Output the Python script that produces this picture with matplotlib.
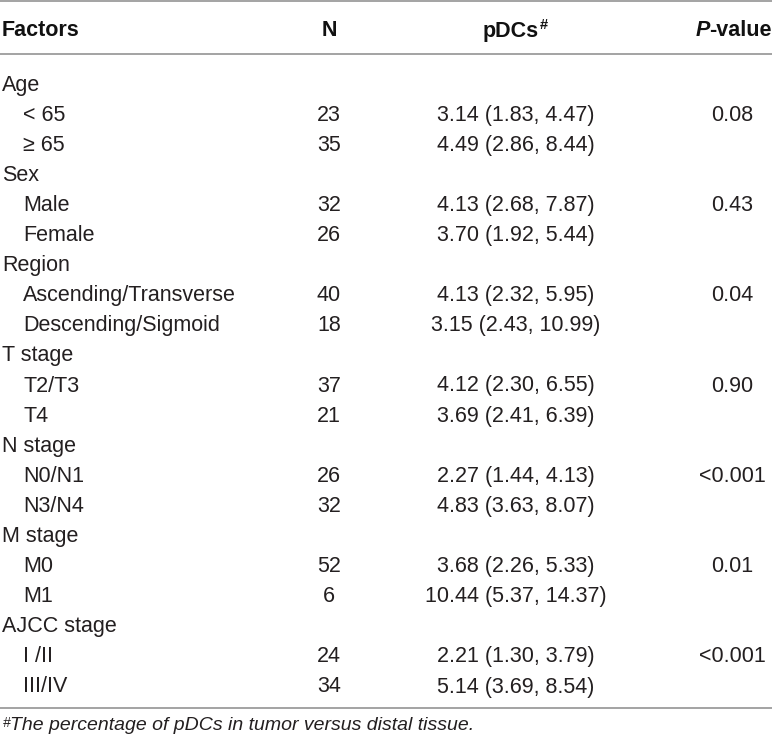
import matplotlib
matplotlib.use("Agg")
import matplotlib.pyplot as plt

plt.rcParams['font.family'] = ['Liberation Sans', 'DejaVu Sans']

# table contents
groups = ['Age', 'Sex', 'Region', 'T stage', 'N stage', 'M stage', 'AJCC stage']
subgroups = [['< 65', '\u2265 65'], ['Male', 'Female'],
             ['Ascending/Transverse', 'Descending/Sigmoid'],
             ['T2/T3', 'T4'], ['N0/N1', 'N3/N4'], ['M0', 'M1'],
             ['I /II', 'III/IV']]
n_counts = [23, 35, 32, 26, 40, 18, 37, 21, 26, 32, 52, 6, 24, 34]
medians = [3.14, 4.49, 4.13, 3.70, 4.13, 3.15, 4.12, 3.69, 2.27, 4.83, 3.68, 10.44, 2.21, 5.14]
q1 = [1.83, 2.86, 2.68, 1.92, 2.32, 2.43, 2.30, 2.41, 1.44, 3.63, 2.26, 5.37, 1.30, 3.69]
q3 = [4.47, 8.44, 7.87, 5.44, 5.95, 10.99, 6.55, 6.39, 4.13, 8.07, 5.33, 14.37, 3.79, 8.54]
p_values = ['0.08', '0.43', '0.04', '0.90', '<0.001', '0.01', '<0.001']
footnote = 'The percentage of pDCs in tumor versus distal tissue.'

W, H = 772, 743
fig = plt.figure(figsize=(W / 100, H / 100), dpi=100)
ax = fig.add_axes([0, 0, 1, 1])
ax.set_xlim(0, W)
ax.set_ylim(H, 0)
ax.axis('off')

fs = 15.5
txt = '#231f20'
head = '#111111'
line_col = '#a3a3a3'

x_grp, x_sub, x_n, x_pdc, x_p = 2, 23, 329, 516, 732
y_head = 29 + 7.5
y0 = 83 + 7.5
step = 30.1

# rules
for y in [1, 54, 708]:
    ax.plot([0, W], [y, y], color=line_col, lw=1.4, solid_capstyle='butt')

# header
ax.text(x_grp, y_head, 'Factors', fontsize=fs, fontweight='bold', va='baseline', ha='left', color=head)
ax.text(x_n, y_head, 'N', fontsize=fs, fontweight='bold', va='baseline', ha='center', color=head)
t_pdc = ax.text(x_pdc - 5, y_head, 'pDCs', fontsize=fs, fontweight='bold', va='baseline', ha='center', color=head)
ax.annotate('#', xy=(1, 1), xycoords=t_pdc, xytext=(0.5, 1.5), textcoords='offset points',
            fontsize=10.5, fontweight='bold', va='top', ha='left', color=head)
t_val = ax.text(W, y_head, '-value', fontsize=fs, fontweight='bold', va='baseline', ha='right', color=head)
ax.annotate('P', xy=(0, 0), xycoords=t_val, fontsize=fs, fontweight='bold', style='italic',
            va='bottom', ha='right', color=head)

# body rows
row = 0
k = 0
for g, subs, p in zip(groups, subgroups, p_values):
    ax.text(x_grp, y0 + row * step, g, fontsize=fs, va='baseline', ha='left', color=txt)
    row += 1
    for j, s in enumerate(subs):
        y = y0 + row * step
        ax.text(x_sub, y, s, fontsize=fs, va='baseline', ha='left', color=txt)
        ax.text(x_n, y, str(n_counts[k]), fontsize=fs, va='baseline', ha='center', color=txt)
        ax.text(x_pdc, y, '%.2f (%.2f, %.2f)' % (medians[k], q1[k], q3[k]),
                fontsize=fs, va='baseline', ha='center', color=txt)
        if j == 0:
            ax.text(x_p, y, p, fontsize=fs, va='baseline', ha='center', color=txt)
        row += 1
        k += 1

# footnote
t_fn = ax.text(10, 723 + 7, footnote, fontsize=14, style='italic', va='baseline', ha='left', color=txt)
ax.annotate('#', xy=(0, 1), xycoords=t_fn, xytext=(0, 0.5), textcoords='offset points',
            fontsize=10, style='italic', va='top', ha='right', color=txt)

fig.savefig('out.png', dpi=100)
